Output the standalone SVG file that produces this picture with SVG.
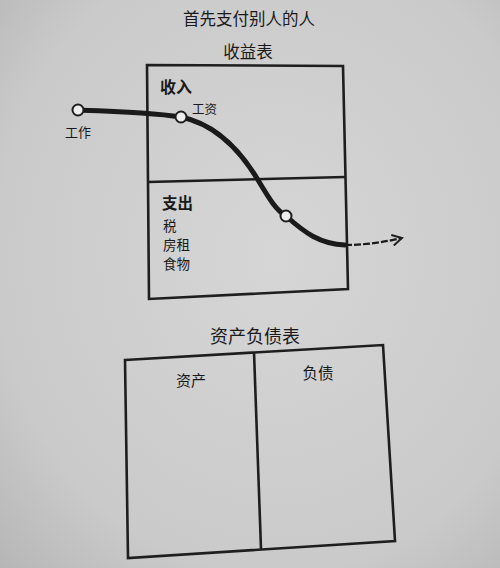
<svg xmlns="http://www.w3.org/2000/svg" width="500" height="568" viewBox="0 0 500 568">
<defs>
<radialGradient id="bg" cx="0.55" cy="0.45" r="0.8">
<stop offset="0" stop-color="#d6d6d6"/>
<stop offset="0.7" stop-color="#cacaca"/>
<stop offset="1" stop-color="#b4b4b4"/>
</radialGradient>
<marker id="arr" viewBox="0 0 12 12" refX="10" refY="6" markerWidth="13" markerHeight="13" markerUnits="userSpaceOnUse" orient="auto">
<path d="M1,1 L10,6 L1,11" fill="none" stroke="#1e1e1e" stroke-width="1.8"/>
</marker>
<style>
.t{font-family:"Noto Sans CJK SC","Noto Sans",sans-serif;fill:#1a1a1a}
.box{fill:none;stroke:#1e1e1e;stroke-width:2.6;stroke-linejoin:miter}
.pt{fill:#eeeeee;stroke:#1e1e1e;stroke-width:2}
</style>
</defs>
<rect width="500" height="568" fill="url(#bg)"/>
<text class="t" x="249" y="25" font-size="16.5" text-anchor="middle">首先支付别人的人</text>
<text class="t" x="248" y="58" font-size="16.5" text-anchor="middle">收益表</text>
<g id="income-statement">
<polygon class="box" points="147,65 343,66 348,289 149,299"/>
<line class="box" x1="148" y1="182" x2="345" y2="177"/>
</g>
<g id="income">
<text class="t" x="160" y="93" font-size="16" font-weight="bold">收入</text>
</g>
<g id="expense">
<text class="t" x="162" y="209" font-size="15.5" font-weight="bold">支出</text>
<text class="t" x="163" y="231" font-size="13.5">税</text>
<text class="t" x="163" y="250" font-size="13.5">房租</text>
<text class="t" x="163" y="269" font-size="13.5">食物</text>
</g>
<g id="connectors">
<path d="M77,110 C110,111 150,112 181,117 C215,124 240,150 258,180 C270,200 276,210 286,216 C305,233 320,244 345,245" fill="none" stroke="#1a1a1a" stroke-width="5" stroke-linecap="round"/>
<path d="M345,245 C365,245 385,242 402,238" fill="none" stroke="#1a1a1a" stroke-width="2.2" stroke-dasharray="7,2" marker-end="url(#arr)"/>
</g>
<g id="work">
<circle class="pt" cx="78" cy="110" r="5.5"/>
<text class="t" x="65" y="137" font-size="13">工作</text>
</g>
<g id="salary">
<circle class="pt" cx="181" cy="117" r="5.5"/>
<text class="t" x="192" y="114" font-size="12.5">工资</text>
</g>
<g id="expense-point">
<circle class="pt" cx="286" cy="216" r="5.5"/>
</g>
<text class="t" x="255" y="343" font-size="18" text-anchor="middle">资产负债表</text>
<g id="balance-sheet">
<polygon class="box" points="125,360 383,345 395,541 128,558"/>
<line class="box" x1="254" y1="352" x2="261" y2="549"/>
</g>
<g id="assets">
<text class="t" x="191" y="386" font-size="15" text-anchor="middle">资产</text>
</g>
<g id="liabilities">
<text class="t" x="318" y="379" font-size="15.5" text-anchor="middle">负债</text>
</g>
</svg>
